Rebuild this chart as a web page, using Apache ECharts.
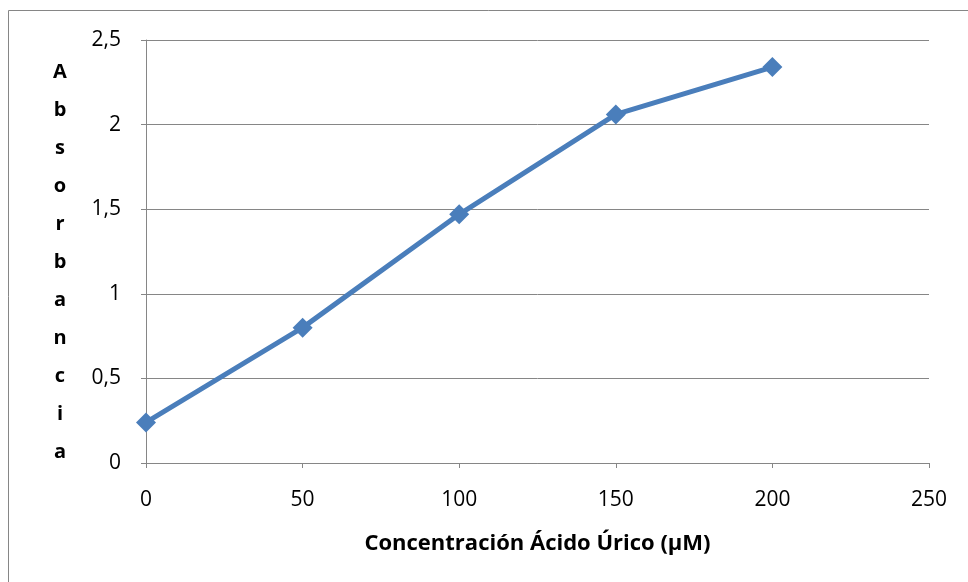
<!DOCTYPE html>
<html><head><meta charset="utf-8">
<script src="https://cdn.jsdelivr.net/npm/echarts@6/dist/echarts.min.js"></script>
<style>html,body{margin:0;padding:0;background:#fff}#c{width:968px;height:582px}</style>
</head><body><div id="c"></div>
<script>
var xValues = [0, 50, 100, 150, 200];
var absorbance = [0.24, 0.80, 1.47, 2.06, 2.34];
var xTitle = 'Concentración Ácido Úrico (µM)';
var yTitle = 'Absorbancia';

var chart = echarts.init(document.getElementById('c'), null, {renderer: 'canvas'});
var font = 'Open Sans, Noto Sans, sans-serif';
chart.setOption({
  animation: false,
  backgroundColor: '#fff',
  grid: {left: 146, right: 39, top: 40, bottom: 119},
  xAxis: {
    type: 'value', min: 0, max: 250, interval: 50,
    axisLine: {show: true, onZero: false, lineStyle: {color: '#868686', width: 1}},
    axisTick: {show: true, length: 5, lineStyle: {color: '#868686'}},
    splitLine: {show: false},
    axisLabel: {color: '#000', fontSize: 21, fontFamily: font, margin: 27},
    name: xTitle, nameLocation: 'middle', nameGap: 70,
    nameTextStyle: {color: '#000', fontSize: 22, fontWeight: 'bold', fontFamily: font}
  },
  yAxis: {
    type: 'value', min: 0, max: 2.5, interval: 0.5,
    axisLine: {show: true, lineStyle: {color: '#868686', width: 1}},
    axisTick: {show: true, length: 5, lineStyle: {color: '#868686'}},
    splitLine: {show: true, lineStyle: {color: '#868686', width: 1}},
    axisLabel: {color: '#000', fontSize: 21, fontFamily: font, margin: 25,
      formatter: function (v) { return String(v).replace('.', ','); }}
  },
  graphic: [
    {type: 'rect', shape: {x: 8.5, y: 10.5, width: 980, height: 600},
     style: {fill: 'none', stroke: '#868686', lineWidth: 1}, silent: true},
    {type: 'text', x: 60, y: 53,
     style: {text: yTitle.split('').join('\n'), fill: '#000', fontSize: 20, fontWeight: 'bold',
       fontFamily: font, lineHeight: 38, align: 'center', verticalAlign: 'top'}}
  ],
  series: [{
    type: 'line',
    data: xValues.map(function (x, i) { return [x, absorbance[i]]; }),
    symbol: 'diamond', symbolSize: 20,
    lineStyle: {color: '#4a7ebb', width: 5},
    itemStyle: {color: '#4a7ebb'}
  }]
});
</script></body></html>
